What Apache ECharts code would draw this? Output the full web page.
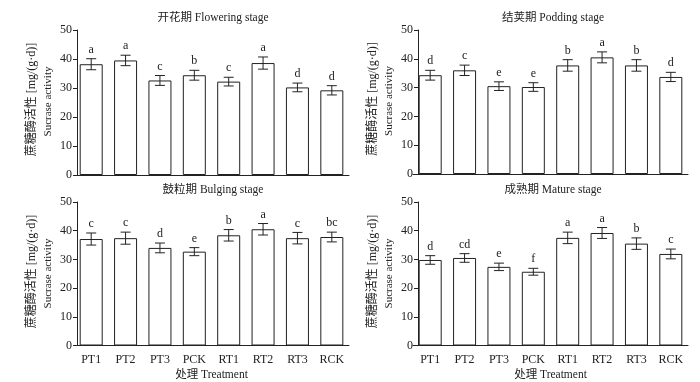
<!DOCTYPE html>
<html>
<head>
<meta charset="utf-8">
<script src="https://cdn.jsdelivr.net/npm/echarts@6/dist/echarts.min.js"></script>
<style>html,body{margin:0;padding:0;background:#fff}#c{width:700px;height:382px}</style>
</head>
<body>
<div id="c"></div>
<script>
const categories = ['PT1','PT2','PT3','PCK','RT1','RT2','RT3','RCK'];
const yTicks = [0,10,20,30,40,50];

const floweringValues = [38.2, 39.5, 32.6, 34.4, 32.2, 38.6, 30.2, 29.2];
const floweringErrors = [1.9, 1.8, 1.7, 1.7, 1.5, 2.1, 1.5, 1.6];
const floweringLetters = ['a','a','c','b','c','a','d','d'];

const poddingValues = [34.3, 36.0, 30.5, 30.2, 37.7, 40.5, 37.7, 33.7];
const poddingErrors = [1.7, 1.8, 1.5, 1.5, 2.0, 1.9, 2.0, 1.6];
const poddingLetters = ['d','c','e','e','b','a','b','d'];

const bulgingValues = [37.1, 37.4, 34.0, 32.7, 38.4, 40.5, 37.4, 37.8];
const bulgingErrors = [2.1, 2.1, 1.7, 1.4, 2.0, 2.0, 2.0, 1.7];
const bulgingLetters = ['c','c','d','e','b','a','c','bc'];

const matureValues = [29.8, 30.5, 27.4, 25.7, 37.5, 39.2, 35.5, 31.9];
const matureErrors = [1.5, 1.5, 1.3, 1.2, 2.0, 1.9, 2.0, 1.7];
const matureLetters = ['d','cd','e','f','a','a','b','c'];

const panelTitles = ['开花期 Flowering stage','结荚期 Podding stage','鼓粒期 Bulging stage','成熟期 Mature stage'];
const yNameCn = '蔗糖酶活性 [mg/(g·d)]';
const yNameEn = 'Sucrase activity';
const xName = '处理 Treatment';

const panels = [
  {values: floweringValues, errors: floweringErrors, letters: floweringLetters},
  {values: poddingValues, errors: poddingErrors, letters: poddingLetters},
  {values: bulgingValues, errors: bulgingErrors, letters: bulgingLetters},
  {values: matureValues, errors: matureErrors, letters: matureLetters}
];

const ink = '#222';
const serif = '"Liberation Serif", "DejaVu Serif", serif';
const cjk = '"Liberation Serif", "Noto Sans CJK SC", serif';

// grid spans the category band; the y axis line sits slightly inside (offset)
const grids = [
  {left: 74, top: 30, width: 275, height: 145},
  {left: 413, top: 30, width: 275, height: 144},
  {left: 74, top: 202, width: 275, height: 145},
  {left: 413, top: 202, width: 275, height: 145}
];
const yAxisOffsets = [-3, -5, -3, -5];

function makeRender(letters) {
  return function (params, api) {
    const i = api.value(0), v = api.value(1), e = api.value(2);
    const t = api.coord([i, v + e]);
    const b = api.coord([i, v - e]);
    const h = 5;
    const st = {stroke: ink, lineWidth: 1};
    return {type: 'group', children: [
      {type: 'line', shape: {x1: t[0], y1: t[1], x2: b[0], y2: b[1]}, style: st},
      {type: 'line', shape: {x1: t[0]-h, y1: t[1], x2: t[0]+h, y2: t[1]}, style: st},
      {type: 'line', shape: {x1: b[0]-h, y1: b[1], x2: b[0]+h, y2: b[1]}, style: st},
      {type: 'text', style: {text: letters[params.dataIndex], x: t[0], y: t[1] - 3, align: 'center', verticalAlign: 'bottom', font: '12px ' + serif, fill: ink}}
    ]};
  };
}

const xAxes = [], yAxes = [], series = [], graphics = [];
grids.forEach((g, k) => {
  const bottomRow = k >= 2;
  xAxes.push({
    type: 'category', gridIndex: k, data: categories, boundaryGap: true,
    axisLine: {lineStyle: {color: ink, width: 1}},
    axisTick: {inside: true, length: 3, lineStyle: {color: ink}},
    axisLabel: {show: bottomRow, margin: 8, fontFamily: serif, fontSize: 12, color: ink},
    name: bottomRow ? xName : '', nameLocation: 'middle', nameGap: 24,
    nameTextStyle: {fontFamily: cjk, fontSize: 11.5, color: ink}
  });
  yAxes.push({
    type: 'value', gridIndex: k, min: 0, max: 50, interval: 10, offset: yAxisOffsets[k],
    axisLine: {show: true, lineStyle: {color: ink, width: 1}},
    axisTick: {show: true, inside: false, length: 4, lineStyle: {color: ink}},
    axisLabel: {margin: 5, fontFamily: serif, fontSize: 12, color: ink},
    splitLine: {show: false}
  });
  const p = panels[k];
  series.push({
    type: 'bar', xAxisIndex: k, yAxisIndex: k, data: p.values, barWidth: 23,
    itemStyle: {color: '#fff', borderColor: ink, borderWidth: 1}, silent: true
  });
  series.push({
    type: 'custom', xAxisIndex: k, yAxisIndex: k,
    data: p.values.map((v, i) => [i, v, p.errors[i]]),
    renderItem: makeRender(p.letters), z: 5, silent: true
  });
  const ax = g.left - yAxisOffsets[k];
  const cx = (ax + g.left + g.width) / 2;
  graphics.push({type: 'text', x: cx, y: g.top - 12, style: {text: panelTitles[k], font: '11.5px ' + cjk, fill: ink, align: 'center', verticalAlign: 'middle'}});
  const cy = g.top + g.height / 2 - 3;
  graphics.push({type: 'text', x: ax - 45, y: cy, rotation: Math.PI / 2, style: {text: yNameCn, font: '12px ' + cjk, fill: ink, align: 'center', verticalAlign: 'middle'}});
  graphics.push({type: 'text', x: ax - 29, y: cy + 2, rotation: Math.PI / 2, style: {text: yNameEn, font: '11px ' + serif, fill: ink, align: 'center', verticalAlign: 'middle'}});
});

const chart = echarts.init(document.getElementById('c'), null, {renderer: 'canvas'});
chart.setOption({
  animation: false,
  backgroundColor: '#fff',
  grid: grids,
  xAxis: xAxes,
  yAxis: yAxes,
  series: series,
  graphic: graphics
});
</script>
</body>
</html>
